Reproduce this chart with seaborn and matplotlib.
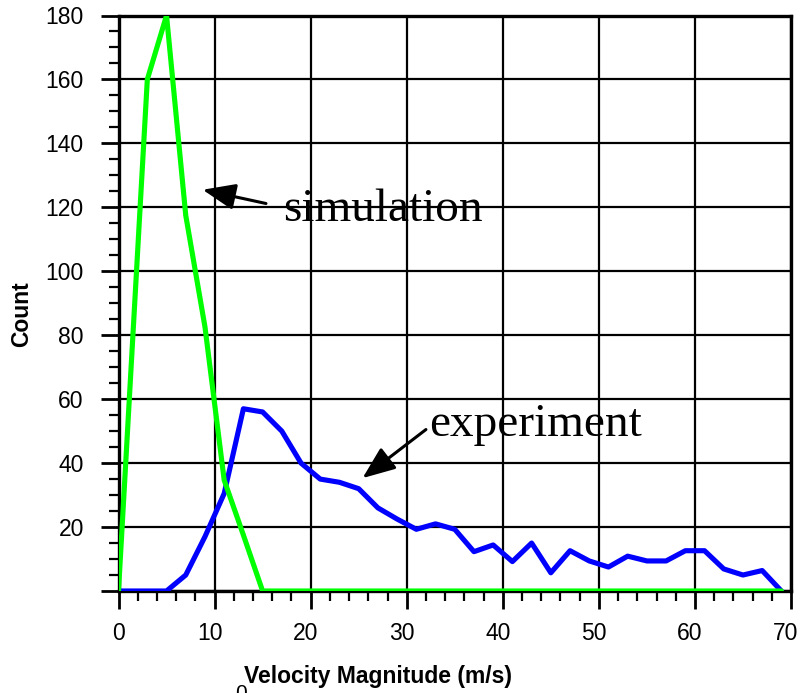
import matplotlib
matplotlib.use("Agg")
import matplotlib.pyplot as plt
from matplotlib.ticker import MultipleLocator
from matplotlib.transforms import ScaledTranslation
import seaborn as sns
import pandas as pd

# ---- data ----
velocity = [0, 3, 5, 7, 9, 11, 13, 15, 17, 19, 21, 23, 25, 27, 29, 31, 33, 35,
            37, 39, 41, 43, 45, 47, 49, 51, 53, 55, 57, 59, 61, 63, 65, 67, 69]
experiment = [0, 0, 0, 5, 17, 30.5, 57, 56, 50, 40, 35, 34, 32, 26, 22.5, 19.3,
              21, 19.3, 12.3, 14.4, 9.2, 15, 5.7, 12.6, 9.4, 7.5, 10.9, 9.4,
              9.4, 12.6, 12.6, 6.9, 5, 6.4, 0]
simulation = [0, 160, 180, 117.5, 82.6, 34.7, 17.5, 0, 0, 0, 0, 0, 0, 0, 0, 0,
              0, 0, 0, 0, 0, 0, 0, 0, 0, 0, 0, 0, 0, 0, 0, 0, 0, 0, 0]
series_names = ["experiment", "simulation"]
x_ticks = [0, 10, 20, 30, 40, 50, 60, 70]
y_ticks = [0, 20, 40, 60, 80, 100, 120, 140, 160, 180]
y_tick_labels = ["", "20", "40", "60", "80", "100", "120", "140", "160", "180"]

df = pd.DataFrame({
    "velocity": velocity * 2,
    "count": experiment + simulation,
    "series": [series_names[0]] * len(velocity) + [series_names[1]] * len(velocity),
})

sns.set_style("white")
plt.rcParams["font.family"] = ["Liberation Sans", "DejaVu Sans"]
plt.rcParams["text.color"] = "black"
plt.rcParams["axes.labelcolor"] = "black"
plt.rcParams["xtick.color"] = "black"
plt.rcParams["ytick.color"] = "black"

fig = plt.figure(figsize=(8, 6.93), dpi=100)
ax = fig.add_axes([118.5 / 800, 1 - 591 / 693, (791 - 118.5) / 800, (591 - 15.5) / 693])

sns.lineplot(data=df, x="velocity", y="count", hue="series",
             hue_order=series_names,
             palette={"experiment": "#0000ff", "simulation": "#00ff00"},
             linewidth=3.7, legend=False, ax=ax, zorder=3)

ax.set_xlim(0, 70)
ax.set_ylim(0, 180)
ax.set_xticks(x_ticks)
ax.set_xticklabels([str(v) for v in x_ticks])
ax.set_yticks(y_ticks)
ax.set_yticklabels(y_tick_labels)
ax.xaxis.set_minor_locator(MultipleLocator(2))
ax.yaxis.set_minor_locator(MultipleLocator(5))

ax.grid(True, which="major", color="black", linewidth=1.6)
ax.set_axisbelow(True)
for s in ax.spines.values():
    s.set_color("black")
    s.set_linewidth(2.4)
    s.set_visible(True)

ax.tick_params(axis="both", which="major", direction="out", length=13, width=2,
               labelsize=16.5, color="black", labelcolor="black")
ax.tick_params(axis="both", which="minor", direction="out", length=7, width=1.6,
               color="black")
ax.tick_params(axis="x", which="major", pad=9)
ax.tick_params(axis="y", which="major", pad=12)
ax.tick_params(bottom=True, left=True, top=False, right=False, which="both")

# x tick labels in the reference sit slightly left of their ticks
shift = ScaledTranslation(-5 / 100, 0, fig.dpi_scale_trans)
for lab in ax.get_xticklabels()[1:]:
    lab.set_transform(lab.get_transform() + shift)

ax.set_xlabel("")
ax.set_ylabel("")
fig.text(378.5 / 800, 1 - 677 / 693, "Velocity Magnitude (m/s)", ha="center",
         va="center", fontsize=16.5, fontweight="bold", color="black")
fig.text(22 / 800, 1 - 314 / 693, "Count", ha="center", va="center",
         rotation=90, fontsize=16.5, fontweight="bold", color="black")
fig.text(241 / 800, 1 - 684 / 693, "0", ha="center", va="top", fontsize=15,
         color="black")

serif = ["Liberation Serif", "DejaVu Serif"]
ax.text(17.1, 115.8, "simulation", fontsize=34, family=serif, ha="left",
        va="baseline", color="black", zorder=5)
ax.text(32.3, 48.6, "experiment", fontsize=34, family=serif, ha="left",
        va="baseline", color="black", zorder=5)
arrow = dict(arrowstyle="-|>,head_length=0.5,head_width=0.2", mutation_scale=40,
             color="black", lw=2.2, shrinkA=0, shrinkB=0)
ax.annotate("", xy=(8.76, 125.5), xytext=(15.35, 121.2), arrowprops=arrow, zorder=5)
ax.annotate("", xy=(25.4, 35.3), xytext=(32.0, 50.5), arrowprops=arrow, zorder=5)

fig.savefig("out.png", dpi=100, facecolor="white")
